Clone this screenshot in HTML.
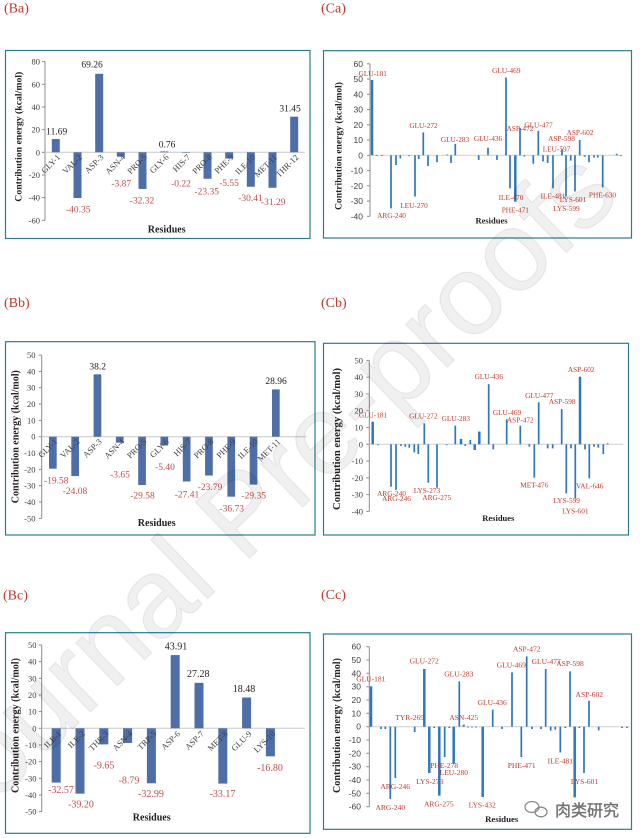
<!DOCTYPE html>
<html><head><meta charset="utf-8"><style>
html,body{margin:0;padding:0;background:#fff;}
svg{display:block;}
</style></head><body>
<svg width="640" height="838" viewBox="0 0 640 838" xmlns="http://www.w3.org/2000/svg" font-family="'Liberation Serif', serif">
<rect width="640" height="838" fill="#fff"/>

<!-- panel titles -->
<g font-size="14" fill="#c0392b">
<text x="4" y="12.5">(Ba)</text>
<text x="321" y="12.5">(Ca)</text>
<text x="4" y="307">(Bb)</text>
<text x="321" y="307">(Cb)</text>
<text x="3" y="599.5">(Bc)</text>
<text x="321" y="599">(Cc)</text>
</g>

<!-- boxes -->
<g fill="none" stroke="#2a7d8e" stroke-width="1.2">
<rect x="5.5" y="50.5" width="304.5" height="188"/>
<rect x="323.5" y="50.7" width="308" height="187.3"/>
<rect x="5.5" y="341.7" width="309.5" height="193.3"/>
<rect x="323.5" y="343.3" width="305" height="191.7"/>
<rect x="5.5" y="632.7" width="304.5" height="200.6"/>
<rect x="323.5" y="634" width="308" height="195.3"/>
</g>

<!-- ================= Ba ================= -->
<g stroke="#8c8c8c" stroke-width="1">
<line x1="45" y1="61.6" x2="45" y2="220.3"/>
<line x1="42" y1="61.6" x2="45" y2="61.6"/><line x1="42" y1="84.3" x2="45" y2="84.3"/>
<line x1="42" y1="107" x2="45" y2="107"/><line x1="42" y1="129.6" x2="45" y2="129.6"/>
<line x1="42" y1="152.3" x2="45" y2="152.3"/><line x1="42" y1="175" x2="45" y2="175"/>
<line x1="42" y1="197.6" x2="45" y2="197.6"/><line x1="42" y1="220.3" x2="45" y2="220.3"/>
</g>
<line x1="45" y1="152.3" x2="305" y2="152.3" stroke="#c8c8c8" stroke-width="1"/>
<g font-size="8.5" fill="#404040" text-anchor="end">
<text x="40" y="64.6">80</text><text x="40" y="87.3">60</text><text x="40" y="110">40</text>
<text x="40" y="132.6">20</text><text x="40" y="155.3">0</text><text x="40" y="178">-20</text>
<text x="40" y="200.6">-40</text><text x="40" y="223.3">-60</text>
</g>
<g fill="#4e6ea8">
<rect x="51.8" y="139.05" width="8" height="13.25"/>
<rect x="73.5" y="152.3" width="8" height="45.73"/>
<rect x="95.2" y="73.8" width="8" height="78.5"/>
<rect x="116.8" y="152.3" width="8" height="4.39"/>
<rect x="138.5" y="152.3" width="8" height="36.63"/>
<rect x="160.2" y="151.44" width="8" height="0.86"/>
<rect x="181.8" y="152.3" width="8" height="0.5"/>
<rect x="203.5" y="152.3" width="8" height="26.46"/>
<rect x="225.2" y="152.3" width="8" height="6.29"/>
<rect x="246.8" y="152.3" width="8" height="34.46"/>
<rect x="268.5" y="152.3" width="8" height="35.46"/>
<rect x="290.2" y="116.66" width="8" height="35.64"/>
</g>
<g font-size="8.5" fill="#404040" text-anchor="end">
<text transform="translate(60.8 157.8) rotate(-45)">GLY-1</text>
<text transform="translate(82.5 157.8) rotate(-45)">VAL-2</text>
<text transform="translate(104.2 157.8) rotate(-45)">ASP-3</text>
<text transform="translate(125.8 157.8) rotate(-45)">ASN-4</text>
<text transform="translate(147.5 157.8) rotate(-45)">PRO-5</text>
<text transform="translate(169.2 157.8) rotate(-45)">GLY-6</text>
<text transform="translate(190.8 157.8) rotate(-45)">HIS-7</text>
<text transform="translate(212.5 157.8) rotate(-45)">PRO-8</text>
<text transform="translate(234.2 157.8) rotate(-45)">PHE-9</text>
<text transform="translate(255.8 157.8) rotate(-45)">ILE-10</text>
<text transform="translate(277.5 157.8) rotate(-45)">MET-11</text>
<text transform="translate(299.2 157.8) rotate(-45)">THR-12</text>
</g>
<g font-size="9.5" text-anchor="middle">
<g fill="#222">
<text x="56.7" y="134.3">11.69</text><text x="92" y="67.3">69.26</text>
<text x="167" y="147.6">0.76</text><text x="290" y="111.6">31.45</text>
</g>
<g fill="#c0504d">
<text x="78.3" y="212.3">-40.35</text><text x="121.3" y="186.6">-3.87</text>
<text x="142" y="203.3">-32.32</text><text x="181" y="186.6">-0.22</text>
<text x="206.7" y="194.3">-23.35</text><text x="229" y="186">-5.55</text>
<text x="250.5" y="201">-30.41</text><text x="273.3" y="205">-31.29</text>
</g>
</g>
<text x="166.7" y="232.6" font-size="10" font-weight="bold" text-anchor="middle" fill="#222">Residues</text>
<text transform="translate(21.6 136.7) rotate(-90)" font-size="9.75" font-weight="bold" text-anchor="middle" fill="#222" textLength="130" lengthAdjust="spacingAndGlyphs">Contribution energy (kcal/mol)</text>

<!-- ================= Bb ================= -->
<g stroke="#8c8c8c" stroke-width="1">
<line x1="41.7" y1="355.05" x2="41.7" y2="518.35"/>
<line x1="38.7" y1="355.05" x2="41.7" y2="355.05"/><line x1="38.7" y1="371.4" x2="41.7" y2="371.4"/>
<line x1="38.7" y1="387.7" x2="41.7" y2="387.7"/><line x1="38.7" y1="404.04" x2="41.7" y2="404.04"/>
<line x1="38.7" y1="420.37" x2="41.7" y2="420.37"/><line x1="38.7" y1="436.7" x2="41.7" y2="436.7"/>
<line x1="38.7" y1="453.03" x2="41.7" y2="453.03"/><line x1="38.7" y1="469.36" x2="41.7" y2="469.36"/>
<line x1="38.7" y1="485.69" x2="41.7" y2="485.69"/><line x1="38.7" y1="502.02" x2="41.7" y2="502.02"/>
<line x1="38.7" y1="518.35" x2="41.7" y2="518.35"/>
</g>
<line x1="41.7" y1="436.7" x2="306.7" y2="436.7" stroke="#c8c8c8" stroke-width="1"/>
<g font-size="8.5" fill="#404040" text-anchor="end">
<text x="35.5" y="358">50</text><text x="35.5" y="374.4">40</text><text x="35.5" y="390.7">30</text>
<text x="35.5" y="407">20</text><text x="35.5" y="423.4">10</text><text x="35.5" y="439.7">0</text>
<text x="35.5" y="456">-10</text><text x="35.5" y="472.4">-20</text><text x="35.5" y="488.7">-30</text>
<text x="35.5" y="505">-40</text><text x="35.5" y="521.4">-50</text>
</g>
<g fill="#4e6ea8">
<rect x="49" y="436.7" width="7.7" height="31.97"/>
<rect x="71.3" y="436.7" width="7.7" height="39.32"/>
<rect x="93.6" y="374.32" width="7.7" height="62.38"/>
<rect x="115.9" y="436.7" width="7.7" height="5.96"/>
<rect x="138.2" y="436.7" width="7.7" height="48.3"/>
<rect x="160.5" y="436.7" width="7.7" height="8.82"/>
<rect x="182.8" y="436.7" width="7.7" height="44.76"/>
<rect x="205.1" y="436.7" width="7.7" height="38.85"/>
<rect x="227.4" y="436.7" width="7.7" height="59.98"/>
<rect x="249.7" y="436.7" width="7.7" height="47.93"/>
<rect x="272" y="389.41" width="7.7" height="47.29"/>
</g>
<g font-size="8.5" fill="#404040" text-anchor="end">
<text transform="translate(57.85 442.2) rotate(-45)">GLY-1</text>
<text transform="translate(80.15 442.2) rotate(-45)">VAL-2</text>
<text transform="translate(102.45 442.2) rotate(-45)">ASP-3</text>
<text transform="translate(124.75 442.2) rotate(-45)">ASN-4</text>
<text transform="translate(147.05 442.2) rotate(-45)">PRO-5</text>
<text transform="translate(169.35 442.2) rotate(-45)">GLY-6</text>
<text transform="translate(191.65 442.2) rotate(-45)">HIS-7</text>
<text transform="translate(213.95 442.2) rotate(-45)">PRO-8</text>
<text transform="translate(236.25 442.2) rotate(-45)">PHE-9</text>
<text transform="translate(258.55 442.2) rotate(-45)">ILE-10</text>
<text transform="translate(280.85 442.2) rotate(-45)">MET-11</text>
</g>
<g font-size="9.5" text-anchor="middle">
<g fill="#222">
<text x="97.7" y="369.3">38.2</text><text x="276" y="384">28.96</text>
</g>
<g fill="#c0504d">
<text x="56.3" y="483.3">-19.58</text><text x="75" y="494">-24.08</text>
<text x="120" y="477.6">-3.65</text><text x="142.5" y="498.3">-29.58</text>
<text x="165" y="470">-5.40</text><text x="187" y="497.6">-27.41</text>
<text x="210" y="490">-23.79</text><text x="231.7" y="511.6">-36.73</text>
<text x="253.7" y="498.3">-29.35</text>
</g>
</g>
<text x="156.7" y="526" font-size="10" font-weight="bold" text-anchor="middle" fill="#222">Residues</text>
<text transform="translate(18.4 436.7) rotate(-90)" font-size="10" font-weight="bold" text-anchor="middle" fill="#222" textLength="133" lengthAdjust="spacingAndGlyphs">Contribution energy (kcal/mol)</text>

<!-- ================= Bc ================= -->
<g stroke="#8c8c8c" stroke-width="1">
<line x1="41.7" y1="645" x2="41.7" y2="811.6"/>
<line x1="38.7" y1="645" x2="41.7" y2="645"/><line x1="38.7" y1="661.6" x2="41.7" y2="661.6"/>
<line x1="38.7" y1="678.3" x2="41.7" y2="678.3"/><line x1="38.7" y1="695" x2="41.7" y2="695"/>
<line x1="38.7" y1="711.6" x2="41.7" y2="711.6"/><line x1="38.7" y1="728.3" x2="41.7" y2="728.3"/>
<line x1="38.7" y1="745" x2="41.7" y2="745"/><line x1="38.7" y1="761.6" x2="41.7" y2="761.6"/>
<line x1="38.7" y1="778.3" x2="41.7" y2="778.3"/><line x1="38.7" y1="795" x2="41.7" y2="795"/>
<line x1="38.7" y1="811.6" x2="41.7" y2="811.6"/>
</g>
<line x1="41.7" y1="728.3" x2="305" y2="728.3" stroke="#c8c8c8" stroke-width="1"/>
<g font-size="8.5" fill="#404040" text-anchor="end">
<text x="36.5" y="648">50</text><text x="36.5" y="664.6">40</text><text x="36.5" y="681.3">30</text>
<text x="36.5" y="698">20</text><text x="36.5" y="714.6">10</text><text x="36.5" y="731.3">0</text>
<text x="36.5" y="748">-10</text><text x="36.5" y="764.6">-20</text><text x="36.5" y="781.3">-30</text>
<text x="36.5" y="798">-40</text><text x="36.5" y="814.6">-50</text>
</g>
<g fill="#4e6ea8">
<rect x="51.7" y="728.3" width="9" height="54.29"/>
<rect x="75.5" y="728.3" width="9" height="65.35"/>
<rect x="99.3" y="728.3" width="9" height="16.09"/>
<rect x="123.1" y="728.3" width="9" height="14.65"/>
<rect x="146.9" y="728.3" width="9" height="54.99"/>
<rect x="170.7" y="655.1" width="9" height="73.2"/>
<rect x="194.5" y="682.82" width="9" height="45.48"/>
<rect x="218.3" y="728.3" width="9" height="55.29"/>
<rect x="242.1" y="697.49" width="9" height="30.81"/>
<rect x="265.9" y="728.3" width="9" height="28.01"/>
</g>
<g font-size="8.5" fill="#404040" text-anchor="end">
<text transform="translate(61.7 734.3) rotate(-45)">ILE-1</text>
<text transform="translate(85.5 734.3) rotate(-45)">ILE-2</text>
<text transform="translate(109.3 734.3) rotate(-45)">THR-3</text>
<text transform="translate(133.1 734.3) rotate(-45)">ASN-4</text>
<text transform="translate(156.9 734.3) rotate(-45)">TRP-5</text>
<text transform="translate(180.7 734.3) rotate(-45)">ASP-6</text>
<text transform="translate(204.5 734.3) rotate(-45)">ASP-7</text>
<text transform="translate(228.3 734.3) rotate(-45)">MET-8</text>
<text transform="translate(252.1 734.3) rotate(-45)">GLU-9</text>
<text transform="translate(275.9 734.3) rotate(-45)">LYS-10</text>
</g>
<g font-size="10" text-anchor="middle">
<g fill="#222">
<text x="176" y="649.5">43.91</text><text x="198.3" y="676.8">27.28</text><text x="244" y="691.8">18.48</text>
</g>
<g fill="#c0504d">
<text x="61" y="792.8">-32.57</text><text x="81" y="807.5">-39.20</text>
<text x="104" y="768.5">-9.65</text><text x="129" y="783.5">-8.79</text>
<text x="151" y="796.8">-32.99</text><text x="222.5" y="796.8">-33.17</text>
<text x="270" y="770.8">-16.80</text>
</g>
</g>
<text x="151.7" y="820.6" font-size="10" font-weight="bold" text-anchor="middle" fill="#222">Residues</text>
<text transform="translate(18.4 725.5) rotate(-90)" font-size="10" font-weight="bold" text-anchor="middle" fill="#222" textLength="135" lengthAdjust="spacingAndGlyphs">Contribution energy (kcal/mol)</text>

<!-- ================= Ca ================= -->
<g stroke="#8c8c8c" stroke-width="1">
<line x1="370" y1="63.8" x2="370" y2="216.3"/>
<line x1="367" y1="63.8" x2="370" y2="63.8"/><line x1="367" y1="79.05" x2="370" y2="79.05"/>
<line x1="367" y1="94.3" x2="370" y2="94.3"/><line x1="367" y1="109.55" x2="370" y2="109.55"/>
<line x1="367" y1="124.8" x2="370" y2="124.8"/><line x1="367" y1="140.05" x2="370" y2="140.05"/>
<line x1="367" y1="155.3" x2="370" y2="155.3"/><line x1="367" y1="170.55" x2="370" y2="170.55"/>
<line x1="367" y1="185.8" x2="370" y2="185.8"/><line x1="367" y1="201.05" x2="370" y2="201.05"/>
<line x1="367" y1="216.3" x2="370" y2="216.3"/>
</g>
<line x1="370" y1="155.3" x2="622" y2="155.3" stroke="#d0d0d0" stroke-width="1"/>
<g font-size="8.5" fill="#404040" text-anchor="end" font-family="'Liberation Sans', sans-serif">
<text x="363" y="66.8">60</text><text x="363" y="82">50</text><text x="363" y="97.3">40</text>
<text x="363" y="112.5">30</text><text x="363" y="127.8">20</text><text x="363" y="143">10</text>
<text x="363" y="158.3">0</text><text x="363" y="173.5">-10</text><text x="363" y="188.8">-20</text>
<text x="363" y="204">-30</text><text x="363" y="219.3">-40</text>
</g>
<g fill="#2f76bf">
<rect x="370.75" y="79.96" width="2.5" height="75.34"/>
<rect x="376.15" y="155.3" width="1.7" height="0.8"/>
<rect x="381.15" y="155.3" width="1.7" height="0.8"/>
<rect x="390.15" y="155.3" width="1.7" height="53.07"/>
<rect x="395.15" y="155.3" width="1.7" height="9.76"/>
<rect x="399.45" y="155.3" width="1.7" height="3.05"/>
<rect x="408.15" y="155.3" width="1.7" height="0.8"/>
<rect x="414.15" y="155.3" width="1.7" height="41.18"/>
<rect x="417.85" y="155.3" width="1.7" height="3.81"/>
<rect x="422.45" y="132.42" width="1.7" height="22.88"/>
<rect x="427.15" y="155.3" width="1.7" height="10.68"/>
<rect x="436.15" y="155.3" width="1.7" height="6.86"/>
<rect x="446.15" y="154.5" width="1.7" height="0.8"/>
<rect x="450.15" y="155.3" width="1.7" height="7.63"/>
<rect x="454.45" y="143.86" width="1.7" height="11.44"/>
<rect x="477.85" y="155.3" width="1.7" height="4.58"/>
<rect x="487.15" y="147.67" width="1.7" height="7.63"/>
<rect x="496.15" y="155.3" width="1.7" height="4.58"/>
<rect x="505.15" y="77.52" width="1.7" height="77.78"/>
<rect x="509.15" y="155.3" width="1.7" height="33.09"/>
<rect x="514.05" y="155.3" width="2.5" height="46.36"/>
<rect x="519.15" y="127.85" width="1.7" height="27.45"/>
<rect x="523.45" y="155.3" width="1.7" height="1.22"/>
<rect x="532.45" y="155.3" width="1.7" height="8.39"/>
<rect x="537.45" y="130.9" width="1.7" height="24.4"/>
<rect x="542.15" y="155.3" width="1.7" height="6.1"/>
<rect x="546.85" y="155.3" width="1.7" height="7.63"/>
<rect x="552.15" y="155.3" width="1.7" height="33.09"/>
<rect x="561.15" y="149.2" width="1.7" height="6.1"/>
<rect x="565.15" y="155.3" width="1.7" height="41.18"/>
<rect x="569.85" y="155.3" width="1.7" height="5.34"/>
<rect x="574.15" y="155.3" width="1.7" height="36.14"/>
<rect x="578.85" y="140.05" width="1.7" height="15.25"/>
<rect x="583.85" y="155.3" width="1.7" height="1.53"/>
<rect x="588.15" y="155.3" width="1.7" height="6.86"/>
<rect x="593.15" y="155.3" width="1.7" height="2.29"/>
<rect x="596.85" y="155.3" width="1.7" height="2.29"/>
<rect x="601.85" y="155.3" width="1.7" height="32.03"/>
<rect x="615.85" y="153.77" width="1.7" height="1.53"/>
<rect x="620.15" y="155.3" width="1.7" height="0.8"/>
</g>
<g font-size="7.3" fill="#c0392b" text-anchor="middle">
<text x="372.7" y="75.8">GLU-181</text>
<text x="391.5" y="218.2">ARG-240</text>
<text x="414" y="208.2">LEU-270</text>
<text x="423.5" y="128.2">GLU-272</text>
<text x="455" y="141.8">GLU-283</text>
<text x="488" y="140.8">GLU-436</text>
<text x="506.3" y="73.2">GLU-469</text>
<text x="520" y="130.8">ASP-472</text>
<text x="538.5" y="127.5">GLU-477</text>
<text x="561.5" y="140.8">ASP-598</text>
<text x="556.5" y="151.5">LEU-597</text>
<text x="580" y="135.2">ASP-602</text>
<text x="511" y="199.8">ILE-470</text>
<text x="515.3" y="212.5">PHE-471</text>
<text x="553" y="198.5">ILE-481</text>
<text x="573" y="201.8">LYS-601</text>
<text x="566.5" y="210.8">LYS-599</text>
<text x="602.5" y="197.5">PHE-630</text>
</g>
<text x="491.5" y="223.5" font-size="8.5" font-weight="bold" text-anchor="middle" fill="#222">Residues</text>
<text transform="translate(341.3 146) rotate(-90)" font-size="9.6" font-weight="bold" text-anchor="middle" fill="#222" textLength="128" lengthAdjust="spacingAndGlyphs">Contribution energy (kcal/mol)</text>

<!-- ================= Cb ================= -->
<g stroke="#8c8c8c" stroke-width="1">
<line x1="369.3" y1="360.4" x2="369.3" y2="511.4"/>
<line x1="366.3" y1="360.4" x2="369.3" y2="360.4"/><line x1="366.3" y1="377.2" x2="369.3" y2="377.2"/>
<line x1="366.3" y1="393.96" x2="369.3" y2="393.96"/><line x1="366.3" y1="410.7" x2="369.3" y2="410.7"/>
<line x1="366.3" y1="427.5" x2="369.3" y2="427.5"/><line x1="366.3" y1="444.3" x2="369.3" y2="444.3"/>
<line x1="366.3" y1="461.1" x2="369.3" y2="461.1"/><line x1="366.3" y1="477.9" x2="369.3" y2="477.9"/>
<line x1="366.3" y1="494.6" x2="369.3" y2="494.6"/><line x1="366.3" y1="511.4" x2="369.3" y2="511.4"/>
</g>
<line x1="369.3" y1="444.3" x2="623.3" y2="444.3" stroke="#d0d0d0" stroke-width="1"/>
<g font-size="8.5" fill="#404040" text-anchor="end">
<text x="363" y="363.4">50</text><text x="363" y="380.2">40</text><text x="363" y="397">30</text>
<text x="363" y="413.7">20</text><text x="363" y="430.5">10</text><text x="363" y="447.3">0</text>
<text x="363" y="464.1">-10</text><text x="363" y="480.9">-20</text><text x="363" y="497.6">-30</text>
<text x="363" y="514.4">-40</text>
</g>
<g fill="#2f76bf">
<rect x="371.45" y="421.65" width="2.5" height="22.65"/>
<rect x="377.15" y="444.3" width="1.7" height="0.84"/>
<rect x="390.15" y="444.3" width="1.7" height="42.45"/>
<rect x="395.15" y="444.3" width="1.7" height="45.64"/>
<rect x="400.15" y="444.3" width="1.7" height="1.68"/>
<rect x="404.45" y="444.3" width="1.7" height="2.52"/>
<rect x="408.45" y="444.3" width="1.7" height="3.36"/>
<rect x="413.45" y="444.3" width="1.7" height="8.05"/>
<rect x="417.45" y="444.3" width="1.7" height="9.73"/>
<rect x="423.45" y="423.32" width="1.7" height="20.98"/>
<rect x="427.45" y="444.3" width="1.7" height="38.43"/>
<rect x="436.15" y="444.3" width="1.7" height="43.29"/>
<rect x="445.85" y="444.3" width="1.7" height="0.84"/>
<rect x="454.45" y="425.67" width="1.7" height="18.63"/>
<rect x="459.75" y="438.93" width="2.5" height="5.37"/>
<rect x="464.45" y="444.3" width="1.7" height="1.68"/>
<rect x="469.45" y="439.94" width="1.7" height="4.36"/>
<rect x="473.45" y="444.3" width="2.5" height="5.71"/>
<rect x="478.05" y="431.55" width="2.5" height="12.75"/>
<rect x="487.85" y="384.23" width="1.7" height="60.07"/>
<rect x="492.45" y="444.3" width="1.7" height="5.03"/>
<rect x="505.85" y="419.3" width="1.7" height="25"/>
<rect x="519.45" y="425.67" width="1.7" height="18.63"/>
<rect x="528.45" y="444.3" width="1.7" height="2.35"/>
<rect x="533.45" y="444.3" width="1.7" height="33.39"/>
<rect x="537.85" y="402.35" width="1.7" height="41.95"/>
<rect x="546.85" y="444.3" width="1.7" height="4.03"/>
<rect x="551.85" y="444.3" width="1.7" height="4.03"/>
<rect x="560.85" y="409.06" width="1.7" height="35.24"/>
<rect x="565.45" y="444.3" width="1.7" height="49"/>
<rect x="570.15" y="444.3" width="1.7" height="4.03"/>
<rect x="574.45" y="444.3" width="1.7" height="54.03"/>
<rect x="578.75" y="376.68" width="2.5" height="67.62"/>
<rect x="584.15" y="444.3" width="1.7" height="5.03"/>
<rect x="588.45" y="444.3" width="1.7" height="34.06"/>
<rect x="593.15" y="444.3" width="1.7" height="2.35"/>
<rect x="597.45" y="444.3" width="1.7" height="3.36"/>
<rect x="602.45" y="444.3" width="1.7" height="9.73"/>
<rect x="606.85" y="443.29" width="1.7" height="1.01"/>
</g>
<g font-size="7.3" fill="#c0392b" text-anchor="middle">
<text x="373" y="417.5">GLU-181</text>
<text x="391.5" y="495.8">ARG-240</text>
<text x="396.5" y="500.8">ARG-246</text>
<text x="423.3" y="418.5">GLU-272</text>
<text x="427" y="493.2">LYS-273</text>
<text x="436.8" y="500.2">ARG-275</text>
<text x="455.8" y="420.8">GLU-283</text>
<text x="488.8" y="379.2">GLU-436</text>
<text x="507" y="415.2">GLU-469</text>
<text x="520.3" y="422.5">ASP-472</text>
<text x="534.3" y="487.5">MET-476</text>
<text x="539.3" y="398.2">GLU-477</text>
<text x="562.2" y="404.2">ASP-598</text>
<text x="581.2" y="371.8">ASP-602</text>
<text x="589.7" y="488.5">VAL-646</text>
<text x="566.7" y="503.2">LYS-599</text>
<text x="575.3" y="513.5">LYS-601</text>
</g>
<text x="498.3" y="521" font-size="8.5" font-weight="bold" text-anchor="middle" fill="#222">Residues</text>
<text transform="translate(340 439) rotate(-90)" font-size="10" font-weight="bold" text-anchor="middle" fill="#222" textLength="142" lengthAdjust="spacingAndGlyphs">Contribution energy (kcal/mol)</text>

<!-- ================= Cc ================= -->
<g stroke="#8c8c8c" stroke-width="1">
<line x1="369.3" y1="646.7" x2="369.3" y2="806.7"/>
<line x1="366.3" y1="646.7" x2="369.3" y2="646.7"/><line x1="366.3" y1="660" x2="369.3" y2="660"/>
<line x1="366.3" y1="673.3" x2="369.3" y2="673.3"/><line x1="366.3" y1="686.7" x2="369.3" y2="686.7"/>
<line x1="366.3" y1="700" x2="369.3" y2="700"/><line x1="366.3" y1="713.3" x2="369.3" y2="713.3"/>
<line x1="366.3" y1="726.7" x2="369.3" y2="726.7"/><line x1="366.3" y1="740" x2="369.3" y2="740"/>
<line x1="366.3" y1="753.3" x2="369.3" y2="753.3"/><line x1="366.3" y1="766.7" x2="369.3" y2="766.7"/>
<line x1="366.3" y1="780" x2="369.3" y2="780"/><line x1="366.3" y1="793.3" x2="369.3" y2="793.3"/>
<line x1="366.3" y1="806.7" x2="369.3" y2="806.7"/>
</g>
<line x1="369.3" y1="726.7" x2="630" y2="726.7" stroke="#d0d0d0" stroke-width="1"/>
<g font-size="8.5" fill="#404040" text-anchor="end" font-family="'Liberation Sans', sans-serif">
<text x="361" y="649.7">60</text><text x="361" y="663">50</text><text x="361" y="676.3">40</text>
<text x="361" y="689.7">30</text><text x="361" y="703">20</text><text x="361" y="716.3">10</text>
<text x="361" y="729.7">0</text><text x="361" y="743">-10</text><text x="361" y="756.3">-20</text>
<text x="361" y="769.7">-30</text><text x="361" y="783">-40</text><text x="361" y="796.3">-50</text>
<text x="361" y="809.7">-60</text>
</g>
<g fill="#2f76bf">
<rect x="369.75" y="686.37" width="2.5" height="40.33"/>
<rect x="380.15" y="726.7" width="1.7" height="2.33"/>
<rect x="384.45" y="726.7" width="1.7" height="2.33"/>
<rect x="389.45" y="726.7" width="1.7" height="72.33"/>
<rect x="394.45" y="726.7" width="1.7" height="51.33"/>
<rect x="413.85" y="726.7" width="1.7" height="5.33"/>
<rect x="423.05" y="669.03" width="2.5" height="57.67"/>
<rect x="428.05" y="726.7" width="2.5" height="46.33"/>
<rect x="433.45" y="726.7" width="1.7" height="1.33"/>
<rect x="438.05" y="726.7" width="2.5" height="69"/>
<rect x="443.85" y="726.7" width="1.7" height="30.33"/>
<rect x="448.45" y="726.7" width="1.7" height="1.33"/>
<rect x="452.45" y="726.7" width="2.5" height="37"/>
<rect x="458.45" y="681.37" width="1.7" height="45.33"/>
<rect x="462.7" y="724.7" width="2" height="2"/>
<rect x="467.15" y="726.7" width="1.7" height="0.8"/>
<rect x="471.15" y="726.7" width="1.7" height="0.8"/>
<rect x="475.15" y="726.7" width="1.7" height="0.8"/>
<rect x="481.45" y="726.7" width="2.5" height="70.33"/>
<rect x="491.85" y="709.7" width="1.7" height="17"/>
<rect x="501.15" y="726.7" width="1.7" height="2.33"/>
<rect x="511.15" y="672.37" width="1.7" height="54.33"/>
<rect x="520.45" y="726.7" width="1.7" height="30.33"/>
<rect x="525.85" y="656.37" width="1.7" height="70.33"/>
<rect x="531.15" y="726.7" width="1.7" height="2.33"/>
<rect x="540.15" y="726.7" width="1.7" height="2.33"/>
<rect x="544.85" y="669.03" width="1.7" height="57.67"/>
<rect x="549.85" y="726.7" width="1.7" height="4"/>
<rect x="554.45" y="726.7" width="1.7" height="3"/>
<rect x="559.45" y="726.7" width="1.7" height="25.67"/>
<rect x="564.45" y="726.7" width="1.7" height="1.33"/>
<rect x="569.15" y="671.37" width="1.7" height="55.33"/>
<rect x="573.45" y="726.7" width="2.5" height="70.67"/>
<rect x="578.45" y="726.7" width="1.7" height="1.33"/>
<rect x="583.15" y="726.7" width="1.7" height="46.33"/>
<rect x="588.15" y="700.7" width="1.7" height="26"/>
<rect x="597.85" y="726.7" width="1.7" height="3.67"/>
<rect x="621.15" y="726.7" width="1.7" height="1.33"/>
<rect x="626.15" y="726.7" width="1.7" height="1.33"/>
</g>
<g font-size="7.5" fill="#c0392b" text-anchor="middle">
<text x="370.8" y="681.5">GLU-181</text>
<text x="395.2" y="789.2">ARG-246</text>
<text x="390.3" y="810.2">ARG-240</text>
<text x="409.7" y="720.2">TYR-269</text>
<text x="424.2" y="663.5">GLU-272</text>
<text x="444.2" y="768.2">PHE-278</text>
<text x="453.8" y="774.8">LEU-280</text>
<text x="429.7" y="784.2">LYS-273</text>
<text x="438.8" y="806.5">ARG-275</text>
<text x="458.8" y="676.5">GLU-283</text>
<text x="463.7" y="719.8">ASN-425</text>
<text x="492.2" y="705.2">GLU-436</text>
<text x="482.2" y="807.5">LYS-432</text>
<text x="511.3" y="667.5">GLU-469</text>
<text x="526.7" y="651.5">ASP-472</text>
<text x="521.7" y="768.2">PHE-471</text>
<text x="546.2" y="664.2">GLU-477</text>
<text x="570" y="665.8">ASP-598</text>
<text x="560.3" y="763.5">ILE-481</text>
<text x="589.3" y="696.8">ASP-602</text>
<text x="584.5" y="784.2">LYS-601</text>
</g>
<text x="501.7" y="822" font-size="8.8" font-weight="bold" text-anchor="middle" fill="#222">Residues</text>
<text transform="translate(340 725.5) rotate(-90)" font-size="10" font-weight="bold" text-anchor="middle" fill="#222" textLength="135" lengthAdjust="spacingAndGlyphs">Contribution energy (kcal/mol)</text>

<!-- WeChat-style mark -->
<g fill="none" stroke="#8a8a8a" stroke-width="1.3">
<ellipse cx="532" cy="807" rx="7" ry="5.5"/>
<ellipse cx="541" cy="812" rx="6" ry="4.8"/>
</g>
<text x="555" y="816" font-size="16" fill="#7a7a7a" stroke="#555" stroke-width="0.3" font-family="'Liberation Sans', 'Noto Sans CJK SC', sans-serif">肉类研究</text>

<!-- watermark -->
<text x="288" y="521" transform="rotate(-44 288 521)" font-size="113" text-anchor="middle" font-family="'Liberation Sans', sans-serif" fill="#000" fill-opacity="0.06" stroke="#000" stroke-opacity="0.07" stroke-width="1.2">Journal Pre-proofs</text>
</svg>
</body></html>
